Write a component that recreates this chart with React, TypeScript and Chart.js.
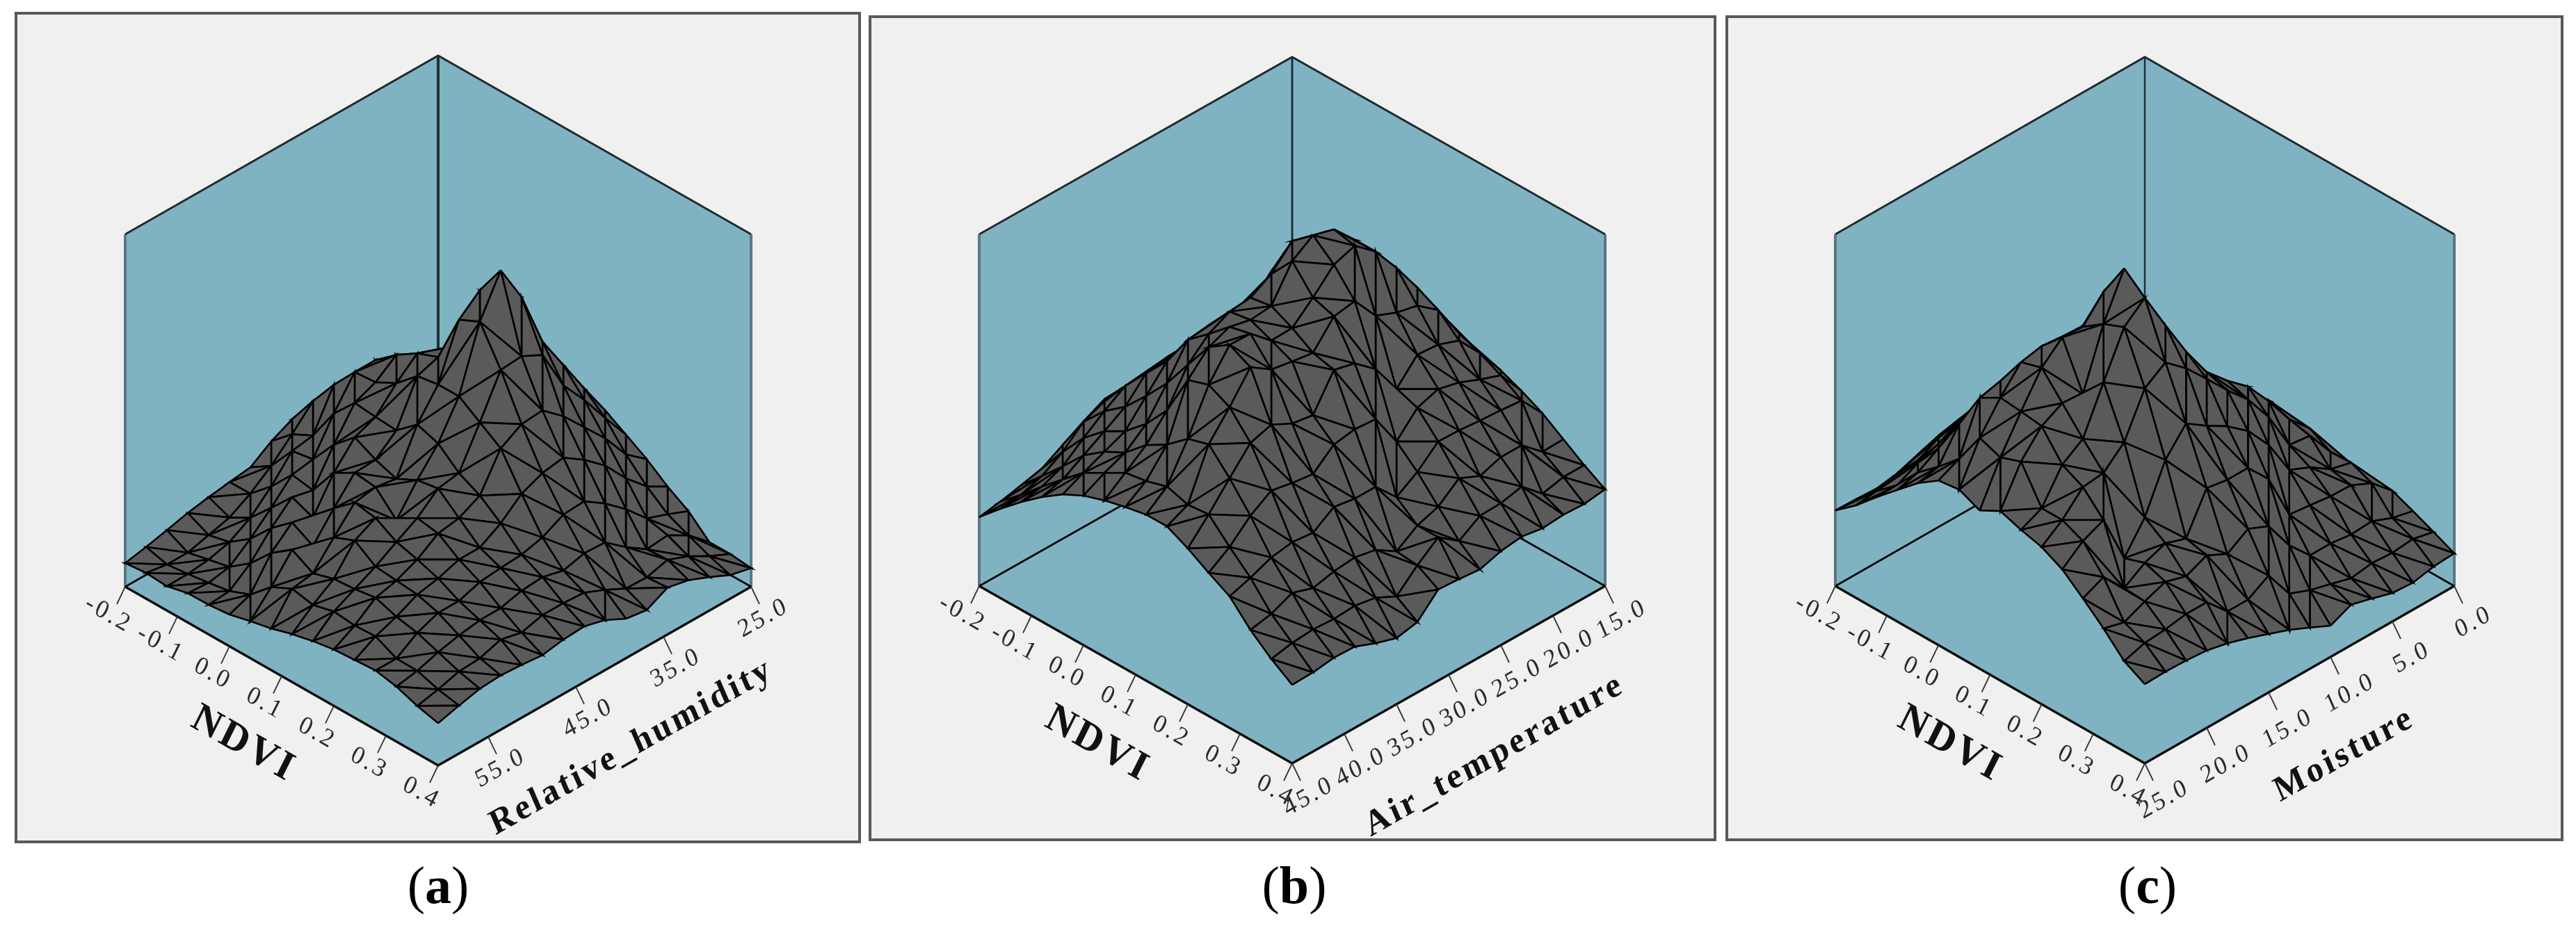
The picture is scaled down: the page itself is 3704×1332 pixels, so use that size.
import React, { useEffect, useRef } from "react";
import { Chart, registerables } from "chart.js";

Chart.register(...registerables);

// Surface heights, as a percentage of the wall height. Row = second axis step, column = NDVI step.
const humidityHeights: number[][] = [
  [8, 9, 11, 13, 16, 20, 24, 26, 26.4, 22.9, 19.3, 14.9, 11.3, 5.9, 5.9, 5.3],
  [10, 12, 14, 17, 20, 26, 30, 34, 36, 31, 24, 18.3, 13.8, 11.2, 8.7, 6.7],
  [12, 15, 18, 22, 28, 34, 40, 44, 46, 39.5, 32, 24, 16, 14.6, 12, 9.5],
  [13, 16, 20, 25, 32, 40, 48, 54, 56, 47, 38.5, 31, 22, 14, 14.4, 12],
  [15, 19, 24, 30, 38, 48, 56, 66, 72, 59, 45, 36, 27, 18, 12.8, 13.3],
  [16, 20, 25, 30, 35, 40, 55, 74, 83, 62, 50, 40, 31, 22.7, 13, 10.3],
  [20, 20, 30, 44, 48.9, 52.7, 55, 69, 71.8, 61.5, 49.5, 39, 30.6, 23, 16, 11.2],
  [20.5, 29, 37, 44, 44.5, 47.6, 53, 54, 54, 50, 46, 36.5, 27.5, 21.5, 18.6, 14.2],
  [17.6, 23, 26, 35.6, 42, 41.4, 41, 46, 44, 39, 36, 31.5, 26, 23, 19, 15.8],
  [13.6, 17.4, 25, 26, 33.5, 39, 36, 34, 37, 38, 33, 28, 25.6, 22.5, 19, 15.4],
  [12.8, 12.9, 18.3, 25, 24, 32.3, 35.7, 35, 29, 33, 32, 28, 25, 21, 17.4, 14.4],
  [11.9, 9.5, 12.8, 19, 25.4, 23, 29, 34, 33, 29.6, 28, 26, 23, 20.9, 18.8, 15],
  [10.8, 7.9, 9.3, 13.6, 20, 25, 21.7, 27.5, 30, 26, 25.4, 24.8, 23, 20, 16.9, 15.4],
  [9.3, 6.3, 7.7, 9, 13.4, 19.7, 24, 20.7, 22.5, 23, 23.9, 21.9, 20.7, 18.6, 16.5, 15],
  [7.9, 6.3, 7, 7.9, 8.9, 11.3, 16.8, 19.7, 18.5, 20, 19.4, 19.7, 16.8, 16.7, 14.8, 13.6],
  [6.7, 7.3, 6.9, 8.3, 8.4, 9, 10.5, 11.8, 13.6, 15, 16, 16.4, 16.8, 15.6, 13.5, 12],
];

const temperatureHeights: number[][] = [
  [28, 35, 43, 45, 47, 50, 50, 50, 48, 46, 44.5, 42, 39, 35, 31, 27.5],
  [28, 38, 45, 53, 55, 57, 60, 60, 58, 55, 52.8, 49.8, 46, 34.8, 31, 26.7],
  [24, 38, 48, 55, 63, 65, 67, 70, 68, 65, 59.7, 52, 46.6, 40, 29.6, 27],
  [24, 32, 48, 58, 65, 73, 75, 77, 77, 69.6, 61.9, 54.5, 47, 40, 35, 26.5],
  [26, 32, 42, 58, 68, 75, 83, 85, 85, 71, 62.4, 56, 47.6, 38, 33.6, 27.5],
  [28, 34, 42, 52, 68, 78, 85, 91.3, 90, 73.5, 56, 54, 47.8, 40.7, 33.4, 26.7],
  [30, 36, 44, 52, 62, 76, 88, 93, 88, 81, 65, 47.8, 42.5, 36, 29.6, 24.9],
  [30, 38, 46, 54, 62, 70, 82, 89, 82, 80, 70, 57.5, 38.7, 34, 34, 25.5],
  [32, 38, 46, 54, 62, 70, 78.6, 79.6, 76.7, 73, 71.5, 58, 45, 30, 29.4, 25.9],
  [33, 40, 46, 55, 62, 70.8, 78, 79, 76.5, 73.9, 62, 57, 45, 33.8, 23.9, 20],
  [30, 39, 46.8, 53.8, 60.5, 70, 75, 80.4, 81.8, 75, 63, 52, 46, 35, 26.9, 18.8],
  [26.7, 36.6, 43, 47.6, 54, 61, 69.6, 78, 82, 79, 66, 52.8, 42, 34.4, 28, 20.7],
  [23.3, 31.4, 38.7, 44, 47.4, 52.8, 60, 72, 74, 71, 64.2, 54, 42.7, 33, 27.6, 23.1],
  [21.9, 27.9, 34, 40.5, 44.9, 48, 53.5, 57, 62, 63.8, 57.5, 50.2, 41.7, 35, 28, 23.3],
  [20.6, 25.9, 31.6, 37, 42.3, 45.6, 49, 50, 51.8, 50, 50.6, 44.7, 39.3, 32.4, 27.5, 22.5],
  [19.6, 25.3, 30.6, 35.4, 39.5, 42.5, 44.5, 46, 47.2, 47.2, 44.3, 40.7, 37.4, 31.2, 26.3, 22.3],
];

const moistureHeights: number[][] = [
  [18, 18, 18, 18, 18, 20, 20, 20, 20, 18, 18, 17, 17, 14.6, 12, 9.3],
  [22, 24, 24, 24, 24, 24, 26, 28, 28, 28, 24.7, 25, 22.5, 16, 13.4, 8.9],
  [22, 30, 30, 30, 30, 30, 30, 34, 36, 34, 32.6, 26.5, 25.3, 18.4, 12.8, 7.7],
  [22, 30, 40, 38, 38, 38, 36, 38, 42, 42.5, 33.4, 30.4, 25.5, 18, 13.2, 8.1],
  [22, 30, 40, 50, 45, 45, 45, 44, 46, 50, 44.7, 33, 26.3, 18.8, 12.3, 9.9],
  [22, 30, 38, 50, 60, 53, 52, 52, 52, 55, 53, 43.5, 27, 18.8, 14, 11.5],
  [24, 30, 38, 48, 60, 70, 63, 62, 60, 60.8, 59, 50.8, 40.5, 25, 15.6, 8.9],
  [24, 32, 40, 48, 58, 70, 80, 73, 72, 70, 65.6, 55.5, 47, 33.8, 18, 11.7],
  [26, 34, 42, 50, 58, 66, 80, 88, 83, 80.8, 72, 59, 47, 36.4, 26.5, 14.4],
  [26, 34, 42, 50, 58, 66, 74, 87, 97, 92, 77, 63, 48, 32.6, 23, 16.6],
  [26, 34, 42, 50, 58, 67.8, 74, 80.4, 84.6, 87, 73, 56, 37, 35.6, 23, 18.8],
  [24, 32, 40, 48, 58, 65, 74.9, 80.8, 68, 74.7, 61, 43, 39, 33, 29, 20.7],
  [22, 29, 37, 47, 55, 65, 73.7, 75.5, 68.8, 62, 55.7, 34.8, 36.8, 34.8, 29, 22],
  [21, 27, 35, 42.5, 52.8, 63.6, 67, 66.4, 65.6, 58, 55, 49, 33, 32.6, 28, 22.5],
  [21.3, 27, 32, 39, 44, 49.6, 58.9, 56.7, 58.9, 49, 49, 46.4, 39.5, 30, 27.5, 22.7],
  [21.5, 26.3, 32, 37.4, 42.7, 46.8, 47.6, 45, 48.2, 46.2, 44.7, 41.7, 36.8, 31.6, 25.7, 22.5],
];

const ndviTicks = ["-0.2", "-0.1", "0.0", "0.1", "0.2", "0.3", "0.4"];
const ndviPositions = [0, 1 / 6, 2 / 6, 3 / 6, 4 / 6, 5 / 6, 1];

const humidityTicks = ["25.0", "35.0", "45.0", "55.0"];
const humidityPositions = [0, 0.28, 0.56, 0.84];
const temperatureTicks = ["15.0", "20.0", "25.0", "30.0", "35.0", "40.0", "45.0"];
const temperaturePositions = [0, 1 / 6, 2 / 6, 3 / 6, 4 / 6, 5 / 6, 1];
const moistureTicks = ["0.0", "5.0", "10.0", "15.0", "20.0", "25.0"];
const moisturePositions = [0, 0.2, 0.4, 0.6, 0.8, 1];

type Panel = {
  caption: string;
  title: string;
  heights: number[][];
  ticks: string[];
  positions: number[];
  frame: { left: number; top: number; right: number; bottom: number };
  box: { cx: number; half: number; back: number; front: number; wall: number };
  labelOffset: [number, number];
  titleAt: [number, number];
  captionX: number;
  backWidth: number;
};

const panels: Panel[] = [
  {
    caption: "a",
    title: "Relative_humidity",
    heights: humidityHeights,
    ticks: humidityTicks,
    positions: humidityPositions,
    frame: { left: 23, top: 19, right: 1236, bottom: 1211 },
    box: { cx: 630, half: 450, back: 587, front: 1101, wall: 507 },
    labelOffset: [18, 45],
    titleAt: [908, 1075],
    captionX: 630,
    backWidth: 4,
  },
  {
    caption: "b",
    title: "Air_temperature",
    heights: temperatureHeights,
    ticks: temperatureTicks,
    positions: temperaturePositions,
    frame: { left: 1251, top: 24, right: 2466, bottom: 1208 },
    box: { cx: 1858, half: 450, back: 588, front: 1098, wall: 506 },
    labelOffset: [24, 48],
    titleAt: [2149, 1087],
    captionX: 1861,
    backWidth: 3,
  },
  {
    caption: "c",
    title: "Moisture",
    heights: moistureHeights,
    ticks: moistureTicks,
    positions: moisturePositions,
    frame: { left: 2483, top: 24, right: 3684, bottom: 1208 },
    box: { cx: 3084, half: 445, back: 588, front: 1098, wall: 506 },
    labelOffset: [28, 52],
    titleAt: [3371, 1086],
    captionX: 3088,
    backWidth: 2.5,
  },
];

const WALL = "#80b3c2";
const MESH = "#5a5a5a";

type Pt = { x: number; y: number };

function buildDatasets(p: Panel) {
  const { half, back, front, wall } = p.box;
  const span = front - back;
  const n = p.heights.length - 1;
  const zUnit = wall / span / 100;
  const node = (i: number, j: number, z = 0): Pt => ({
    x: (j - i) / n,
    y: (i + j) / (2 * n) - z * zUnit,
  });
  const corner = { back: node(0, 0), left: node(n, 0), right: node(0, n), front: node(n, n) };
  const topOf = (c: Pt): Pt => ({ x: c.x, y: c.y - wall / span });

  const list: any[] = [];
  const poly = (pts: Pt[], color: string, line = "rgba(0,0,0,0)", w = 0) =>
    list.push({
      data: [...pts, pts[0]],
      showLine: true,
      fill: "shape",
      backgroundColor: color,
      borderColor: line,
      borderWidth: w,
      pointRadius: 0,
      tension: 0,
    });
  const seg = (pts: Pt[], color: string, w: number) =>
    list.push({
      data: pts,
      showLine: true,
      fill: false,
      borderColor: color,
      borderWidth: w,
      pointRadius: 0,
      tension: 0,
    });

  poly([topOf(corner.left), topOf(corner.back), corner.back, corner.left], WALL);
  poly([topOf(corner.back), topOf(corner.right), corner.right, corner.back], WALL);
  poly([corner.left, corner.back, corner.right, corner.front], WALL);
  seg([corner.left, topOf(corner.left)], "#5b7783", 4);
  seg([corner.right, topOf(corner.right)], "#5b7783", 4);
  seg([corner.back, topOf(corner.back)], "#1d3036", p.backWidth);
  seg([topOf(corner.left), topOf(corner.back), topOf(corner.right)], "#1f2a2e", 3);
  seg([corner.left, corner.back, corner.right], "#0a0a0a", 2.8);

  // back to front so nearer triangles cover farther ones
  for (let k = 0; k <= 2 * n - 2; k++) {
    for (let i = 0; i < n; i++) {
      const j = k - i;
      if (j < 0 || j >= n) continue;
      const h = p.heights;
      const a = node(i, j, h[i][j]);
      const b = node(i, j + 1, h[i][j + 1]);
      const c = node(i + 1, j, h[i + 1][j]);
      const d = node(i + 1, j + 1, h[i + 1][j + 1]);
      const vertical = Math.abs(h[i][j] - h[i + 1][j + 1]);
      const across = Math.abs(h[i][j + 1] - h[i + 1][j]);
      if (vertical + 5 < across) {
        poly([b, a, d], MESH, "#000", 2.6);
        poly([c, a, d], MESH, "#000", 2.6);
      } else {
        poly([a, b, c], MESH, "#000", 2.6);
        poly([d, b, c], MESH, "#000", 2.6);
      }
    }
  }

  seg([corner.left, corner.front, corner.right], "#0a0a0a", 3.5);
  const tickX = 12 / half;
  const tickY = 25 / span;
  ndviPositions.forEach((f) => {
    const s = { x: corner.left.x + (corner.front.x - corner.left.x) * f, y: corner.left.y + (corner.front.y - corner.left.y) * f };
    seg([s, { x: s.x - tickX, y: s.y + tickY }], "#333", 1.8);
  });
  p.positions.forEach((f) => {
    const s = { x: corner.right.x + (corner.front.x - corner.right.x) * f, y: corner.right.y + (corner.front.y - corner.right.y) * f };
    seg([s, { x: s.x + tickX, y: s.y + tickY }], "#333", 1.8);
  });
  return list.map((d, idx) => ({ ...d, order: -idx }));
}

function sheared(
  ctx: CanvasRenderingContext2D,
  text: string,
  x: number,
  y: number,
  leftAxis: boolean,
  font: string,
  spacing: number,
  color: string
) {
  ctx.save();
  if (leftAxis) ctx.transform(0.868, 0.496, -0.45, 0.9, x, y);
  else ctx.transform(0.868, -0.496, 0.4, 0.92, x, y);
  ctx.font = font;
  (ctx as any).letterSpacing = `${spacing}px`;
  ctx.fillStyle = color;
  ctx.textAlign = "center";
  ctx.textBaseline = "middle";
  ctx.fillText(text, 0, 0);
  ctx.restore();
}

function PanelChart({ panel }: { panel: Panel }) {
  const ref = useRef<HTMLCanvasElement>(null);
  const { left, top, right, bottom } = panel.frame;
  const { cx, half, back, front } = panel.box;
  const w = right - left;
  const h = bottom - top;

  useEffect(() => {
    const span = front - back;
    const labels = {
      id: "axisText",
      afterDatasetsDraw(chart: any) {
        const ctx = chart.ctx as CanvasRenderingContext2D;
        const xs = chart.scales.x;
        const ys = chart.scales.y;
        const serif = '"Liberation Serif", serif';
        ndviTicks.forEach((t, idx) => {
          const f = ndviPositions[idx];
          const px = xs.getPixelForValue(-1 + f);
          const py = ys.getPixelForValue(0.5 + f / 2);
          sheared(ctx, t, px - 24, py + 40, true, `36px ${serif}`, 4, "#2a2a2a");
        });
        panel.ticks.forEach((t, idx) => {
          const f = panel.positions[idx];
          const px = xs.getPixelForValue(1 - f);
          const py = ys.getPixelForValue(0.5 + f / 2);
          sheared(ctx, t, px + panel.labelOffset[0], py + panel.labelOffset[1], false, `36px ${serif}`, 4, "#2a2a2a");
        });
        sheared(ctx, "NDVI", panel.box.cx - left - 280, 1071 - top, true, `bold 58px ${serif}`, 4, "#111");
        sheared(ctx, panel.title, panel.titleAt[0] - left, panel.titleAt[1] - top, false, `bold 50px ${serif}`, 4, "#111");
      },
    };
    const chart = new Chart(ref.current as HTMLCanvasElement, {
      type: "scatter",
      data: { datasets: buildDatasets(panel) },
      options: {
        animation: false,
        responsive: false,
        devicePixelRatio: 1,
        events: [],
        layout: { padding: 0 },
        parsing: false,
        normalized: false,
        scales: {
          x: { type: "linear", display: false, min: (left - cx) / half, max: (right - cx) / half },
          y: { type: "linear", display: false, reverse: true, min: (top - back) / span, max: (bottom - back) / span },
        },
        plugins: { legend: { display: false }, tooltip: { enabled: false } },
      } as any,
      plugins: [labels],
    });
    return () => chart.destroy();
  }, []);

  return (
    <>
      <div
        style={{
          position: "absolute",
          left: left - 2,
          top: top - 2,
          width: w + 4,
          height: h + 4,
          boxSizing: "border-box",
          background: "#f0f0f0",
          border: "4px solid #595959",
        }}
      />
      <canvas ref={ref} width={w} height={h} style={{ position: "absolute", left, top, width: w, height: h }} />
      <div
        style={{
          position: "absolute",
          left: panel.captionX - 100,
          width: 200,
          top: 1230,
          textAlign: "center",
          font: '76px "Liberation Serif", serif',
          color: "#000",
        }}
      >
        (<b>{panel.caption}</b>)
      </div>
    </>
  );
}

export default function App() {
  return (
    <div style={{ position: "fixed", left: 0, top: 0, width: 3704, height: 1332, background: "#fff", overflow: "hidden" }}>
      {panels.map((p) => (
        <PanelChart key={p.caption} panel={p} />
      ))}
    </div>
  );
}
